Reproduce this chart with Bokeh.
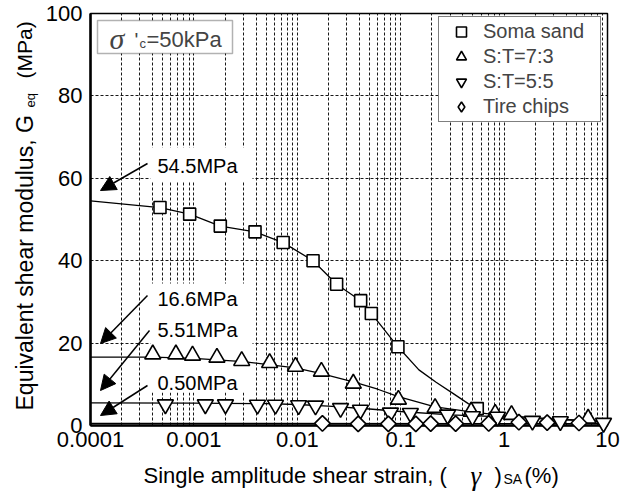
import math
from bokeh.plotting import figure
from bokeh.models import (Range1d, FixedTicker, CustomJSTickFormatter, Legend, LegendItem,
                          Label, Arrow, NormalHead, BoxAnnotation)
from bokeh.core.properties import value
from bokeh.embed import file_html
from bokeh.resources import INLINE

# ---------------- data ----------------
soma_strain = [0.00047, 0.00091, 0.0018, 0.0039, 0.0073, 0.0142, 0.024, 0.041, 0.052, 0.094, 0.55]
soma_G = [52.9, 51.3, 48.4, 47.0, 44.4, 40.0, 34.3, 30.3, 27.2, 19.1, 4.1]
soma_fit_strain = [0.0001, 0.00047, 0.00091, 0.0018, 0.0039, 0.0073, 0.0142, 0.024, 0.041, 0.052,
                   0.094, 0.15, 0.22, 0.32, 0.45, 0.55]
soma_fit_G = [54.5, 52.9, 51.3, 48.4, 47.0, 44.4, 40.0, 34.3, 30.3, 27.2, 19.1, 13.5, 10.5, 7.8, 5.3, 4.1]

st73_strain = [0.0004, 0.00067, 0.00097, 0.00167, 0.0029, 0.0054, 0.0096, 0.0171, 0.0348, 0.095,
               0.215, 0.48, 0.82, 1.18, 6.5]
st73_G = [17.3, 17.3, 17.0, 16.5, 15.7, 15.2, 14.3, 13.1, 10.2, 6.3, 4.3, 3.4, 2.9, 2.6, 1.7]
st73_fit_strain = [0.0001, 0.0004, 0.001, 0.003, 0.0096, 0.0171, 0.0348, 0.06, 0.095, 0.215, 0.48,
                   1.0, 3.0, 10.0]
st73_fit_G = [16.6, 16.6, 16.3, 15.5, 14.0, 12.6, 10.6, 8.8, 7.0, 4.5, 3.3, 2.4, 1.6, 1.0]

st55_strain = [0.00053, 0.00129, 0.00202, 0.00412, 0.00615, 0.0103, 0.015, 0.0262, 0.0408, 0.0796,
               0.124, 0.284, 0.494, 0.863, 1.88, 3.5, 9.15]
st55_G = [5.1, 5.1, 5.1, 5.0, 5.0, 4.9, 4.8, 4.2, 3.8, 3.1, 3.0, 2.6, 2.2, 2.1, 1.1, 1.0, 0.6]
st55_fit_strain = [0.0001, 0.001, 0.005, 0.01, 0.02, 0.05, 0.1, 0.3, 1.0, 3.0, 10.0]
st55_fit_G = [5.51, 5.45, 5.3, 5.1, 4.7, 4.0, 3.4, 2.6, 2.1, 1.5, 0.9]

tire_strain = [0.0175, 0.0388, 0.076, 0.14, 0.195, 0.34, 0.71, 1.39, 2.61, 5.3]
tire_G = [0.5, 0.4, 0.4, 0.4, 0.45, 0.45, 0.5, 0.8, 0.7, 0.6]
tire_fit_strain = [0.0001, 10.0]
tire_fit_G = [0.50, 0.45]

G0_labels = ["54.5MPa", "16.6MPa", "5.51MPa", "0.50MPa"]
legend_labels = ["Soma sand", "S:T=7:3", "S:T=5:5", "Tire chips"]
x_ticks = [0.0001, 0.001, 0.01, 0.1, 1, 10]
y_ticks = [0, 20, 40, 60, 80, 100]
y_grid = [20, 40, 60, 80]

# ---------------- layout helpers (pixel -> data, for annotations) ----------------
FL, FR, FT, FB = 90, 607, 13, 425
W, H = 630, 493


def sx(px):
    return 10 ** (-4 + 5 * (px - FL) / (FR - FL))


def sy(py):
    return 100 * (FB - py) / (FB - FT)


FONT = "Liberation Sans"

p = figure(width=W, height=H, x_axis_type="log",
           x_range=Range1d(1e-4, 10), y_range=Range1d(0, 100),
           output_backend="svg", toolbar_location=None,
           min_border_left=FL, min_border_right=W - FR,
           min_border_top=FT, min_border_bottom=H - FB)
p.background_fill_color = "white"
p.border_fill_color = "white"
p.outline_line_color = "black"
p.outline_line_width = 1.5

# axes
for ax in (p.xaxis[0], p.yaxis[0]):
    ax.axis_line_width = 2.5
    ax.axis_line_color = "black"
    ax.major_tick_line_color = None
    ax.minor_tick_line_color = None
    ax.major_tick_out = 0
    ax.major_tick_in = 0
    ax.major_label_text_font = FONT
    ax.major_label_text_font_size = "22px"
    ax.major_label_text_color = "black"
p.xaxis.ticker = FixedTicker(ticks=x_ticks)
p.xaxis.formatter = CustomJSTickFormatter(code="return tick.toString();")
p.xaxis.major_label_standoff = 6
p.yaxis.ticker = FixedTicker(ticks=y_ticks)
p.yaxis.major_label_standoff = 8

# grids
grid_x = [m * 10 ** k for k in range(-4, 1) for m in range(1, 10)] + [10]
p.xgrid.ticker = FixedTicker(ticks=grid_x)
p.ygrid.ticker = FixedTicker(ticks=y_grid)
for g in (p.xgrid[0], p.ygrid[0]):
    g.grid_line_color = "black"
    g.grid_line_dash = "3 2"
    g.grid_line_width = 1
    g.grid_line_alpha = 0.9

# white areas behind annotation texts (hide grid only)
for (l, r, t, b) in [(150, 252, 147, 181), (150, 252, 283, 392)]:
    p.add_layout(BoxAnnotation(left=sx(l), right=sx(r), top=sy(t), bottom=sy(b),
                               fill_color="white", fill_alpha=1.0, line_color=None,
                               level="underlay"))

# fit curves
for xs, ys in [(soma_fit_strain, soma_fit_G), (st73_fit_strain, st73_fit_G),
               (st55_fit_strain, st55_fit_G), (tire_fit_strain, tire_fit_G)]:
    p.line(xs, ys, line_color="black", line_width=1.3)

mk = dict(fill_color="white", line_color="black", line_width=1.6, level="overlay")
r_soma = p.scatter(soma_strain, soma_G, marker="square", size=12, **mk)
r_73 = p.scatter(st73_strain, st73_G, marker="triangle", size=16, **mk)
r_55 = p.scatter(st55_strain, st55_G, marker="inverted_triangle", size=16, **mk)
r_tire = p.scatter(tire_strain, tire_G, marker="square", angle=math.pi / 4, size=11, **mk)
# legend-only glyph for the diamond (legend glyphs are never rotated); NaN -> never drawn in the plot
r_tire_leg = p.scatter([float("nan")], [float("nan")], marker="diamond", size=15,
                       fill_color="white", line_color="black", line_width=1.6)

legend = Legend(items=[LegendItem(label=lab, renderers=[r]) for lab, r in
                       zip(legend_labels, [r_soma, r_73, r_55, r_tire_leg])],
                location=(438 - FL, FB - 122), orientation="vertical",
                border_line_color="black", border_line_width=1.5,
                background_fill_color="white", background_fill_alpha=1.0,
                padding=2, margin=0, spacing=0,
                glyph_width=40, glyph_height=25, label_height=25, label_width=115,
                label_standoff=2, label_text_font=FONT, label_text_font_size="20px",
                label_text_baseline="middle")
p.add_layout(legend)

# arrows & value labels
arrows = [((147, 163), (100, 190)), ((147, 295), (100, 343)),
          ((149, 330), (100, 390)), ((147, 385), (100, 415))]
for (x0, y0), (x1, y1) in arrows:
    p.add_layout(Arrow(x_start=sx(x0), y_start=sy(y0), x_end=sx(x1), y_end=sy(y1),
                       line_color="black", line_width=1.5,
                       end=NormalHead(size=15, fill_color="black", line_color="black")))
for txt, ly in zip(G0_labels, [165, 298, 329, 382]):
    p.add_layout(Label(x=sx(157), y=sy(ly), text=txt, text_font=FONT, text_font_size="20px",
                       text_align="left", text_baseline="middle", text_color="black"))

# sigma'c box
p.add_layout(BoxAnnotation(left=sx(97), right=sx(232), top=sy(20), bottom=sy(53),
                           fill_color="white", fill_alpha=1.0, line_color="black", line_width=1.5))
p.add_layout(Label(x=sx(109), y=sy(38), text="σ", text_font="Liberation Serif",
                   text_font_style="italic", text_font_size="30px", text_align="left",
                   text_baseline="middle"))
p.add_layout(Label(x=sx(134), y=sy(39), text="'", text_font=FONT, text_font_size="20px",
                   text_align="left", text_baseline="middle"))
p.add_layout(Label(x=sx(139), y=sy(43), text="c", text_font=FONT, text_font_size="13px",
                   text_align="left", text_baseline="middle"))
p.add_layout(Label(x=sx(146), y=sy(39), text="=50kPa", text_font=FONT, text_font_size="22px",
                   text_align="left", text_baseline="middle"))

# axis titles: drawn as text glyphs on the overlay level (not clipped to the frame)
xl_y = 475
xt = [(143, xl_y, "Single amplitude shear strain, (", FONT, "normal", "22px"),
      (470, xl_y, "γ", "Liberation Serif", "italic", "27px"),
      (494, xl_y, ")", FONT, "normal", "22px"),
      (503, 478, "SA", FONT, "normal", "14px"),
      (524, xl_y, "(%)", FONT, "normal", "22px")]
for px, py, txt, fnt, sty, fs in xt:
    p.text(x=[sx(px)], y=[sy(py)], text=[txt], text_font=value(fnt), text_font_style=sty,
           text_font_size=fs, text_align="left", text_baseline="middle", text_color="black",
           level="overlay")

yt = [(24, 410, "Equivalent shear modulus, G", "23px"),
      (30, 107, "eq", "13px"),
      (24, 78, "(MPa)", "21px")]
for px, py, txt, fs in yt:
    p.text(x=[sx(px)], y=[sy(py)], text=[txt], angle=math.pi / 2, text_font=value(FONT),
           text_font_size=fs, text_align="left", text_baseline="middle", text_color="black",
           level="overlay")

open("out.html", "w").write(file_html(p, INLINE))
